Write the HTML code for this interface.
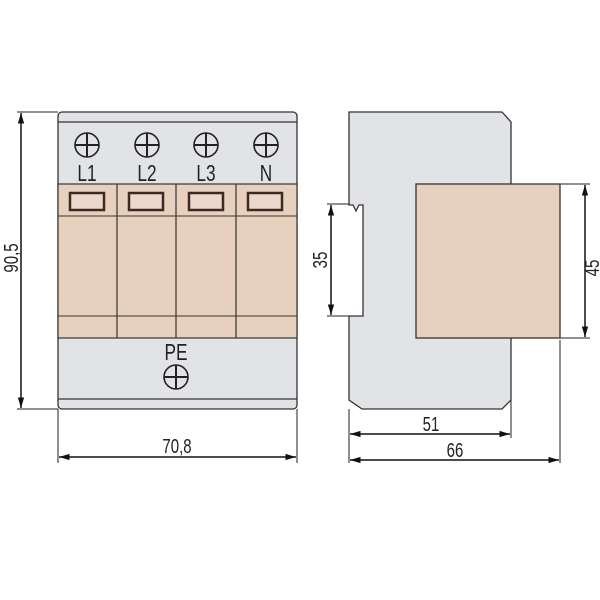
<!DOCTYPE html>
<html><head><style>body{margin:0;background:#fff}svg{display:block}</style></head><body>
<svg width="600" height="600" viewBox="0 0 600 600" xmlns="http://www.w3.org/2000/svg" font-family="Liberation Sans, sans-serif">
<defs>
<g id="sc"><circle r="12" fill="none" stroke="#222" stroke-width="1.6"/><line x1="-12" y1="0" x2="12" y2="0" stroke="#222" stroke-width="2"/><line x1="0" y1="-12" x2="0" y2="12" stroke="#222" stroke-width="2"/></g>
<marker id="a" viewBox="0 0 10 10" refX="10" refY="5" markerWidth="7" markerHeight="7" orient="auto-start-reverse"><path d="M0,2 L10,5 L0,8z" fill="#111"/></marker>
</defs>
<rect x="58" y="112" width="239" height="297" rx="4" fill="#e2e3e6" stroke="#333" stroke-width="1.3"/>
<line x1="58" y1="122" x2="297" y2="122" stroke="#333" stroke-width="1.2"/>
<line x1="58" y1="399" x2="297" y2="399" stroke="#333" stroke-width="1.2"/>
<rect x="58" y="184" width="239" height="154" fill="#e8d0bf" stroke="#333" stroke-width="1.2"/>
<line x1="58" y1="216" x2="297" y2="216" stroke="#333" stroke-width="1"/>
<line x1="58" y1="316" x2="297" y2="316" stroke="#333" stroke-width="1"/>
<g stroke="#333" stroke-width="1.2"><line x1="117" y1="184" x2="117" y2="338"/><line x1="176" y1="184" x2="176" y2="338"/><line x1="236" y1="184" x2="236" y2="338"/></g>
<g fill="#ecd8ca" stroke="#3a2a22" stroke-width="2.5">
<rect x="70" y="193" width="34" height="17"/><rect x="129" y="193" width="34" height="17"/><rect x="189" y="193" width="34" height="17"/><rect x="248" y="193" width="34" height="17"/></g>
<use href="#sc" x="87" y="145"/><use href="#sc" x="147" y="145"/><use href="#sc" x="206" y="145"/><use href="#sc" x="266" y="145"/>
<use href="#sc" x="176" y="377"/>
<g font-size="23" fill="#222" text-anchor="middle">
<text x="87" y="181" transform="translate(87 0) scale(0.75 1) translate(-87 0)">L1</text>
<text x="147" y="181" transform="translate(147 0) scale(0.75 1) translate(-147 0)">L2</text>
<text x="206" y="181" transform="translate(206 0) scale(0.75 1) translate(-206 0)">L3</text>
<text x="266" y="181" transform="translate(266 0) scale(0.75 1) translate(-266 0)">N</text>
<text x="176" y="360" transform="translate(176 0) scale(0.75 1) translate(-176 0)">PE</text>
</g>
<g stroke="#222" stroke-width="1">
<line x1="17" y1="112" x2="58" y2="112"/><line x1="17" y1="409" x2="58" y2="409"/>
<line x1="58" y1="409" x2="58" y2="463"/><line x1="297" y1="409" x2="297" y2="463"/>
<line x1="349" y1="409" x2="349" y2="463"/><line x1="511" y1="400" x2="511" y2="438"/><line x1="560" y1="340" x2="560" y2="463"/>
<line x1="327" y1="204" x2="349" y2="204"/><line x1="327" y1="316" x2="349" y2="316"/>
<line x1="560" y1="184" x2="590" y2="184"/><line x1="560" y1="338" x2="590" y2="338"/>
</g>
<g stroke="#111" stroke-width="1.5" marker-start="url(#a)" marker-end="url(#a)">
<line x1="21" y1="113" x2="21" y2="408"/>
<line x1="59" y1="457" x2="296" y2="457"/>
<line x1="331" y1="205" x2="331" y2="315"/>
<line x1="585" y1="185" x2="585" y2="337"/>
<line x1="350" y1="434" x2="510" y2="434"/>
<line x1="350" y1="460" x2="559" y2="460"/>
</g>
<g font-size="20" fill="#222" text-anchor="middle">
<text x="177" y="453" transform="translate(177 0) scale(0.75 1) translate(-177 0)">70,8</text>
<text x="431" y="431" transform="translate(431 0) scale(0.75 1) translate(-431 0)">51</text>
<text x="455" y="457" transform="translate(455 0) scale(0.75 1) translate(-455 0)">66</text>
<text transform="translate(18 258) rotate(-90) scale(0.75 1)">90,5</text>
<text transform="translate(327 260) rotate(-90) scale(0.75 1)">35</text>
<text transform="translate(599 268) rotate(-90) scale(0.75 1)">45</text>
</g>
<path d="M349,112 L502,112 L511,122 L511,400 L502,409 L362,409 L349,400 L349,316 L363,316 L363,205 L359,205 L356,211 L353,205 L349,205 Z" fill="#e2e3e6" stroke="#333" stroke-width="1.3"/>
<rect x="416" y="184" width="144" height="154" fill="#e8d0bf" stroke="#333" stroke-width="1.3"/>
</svg>
</body></html>
